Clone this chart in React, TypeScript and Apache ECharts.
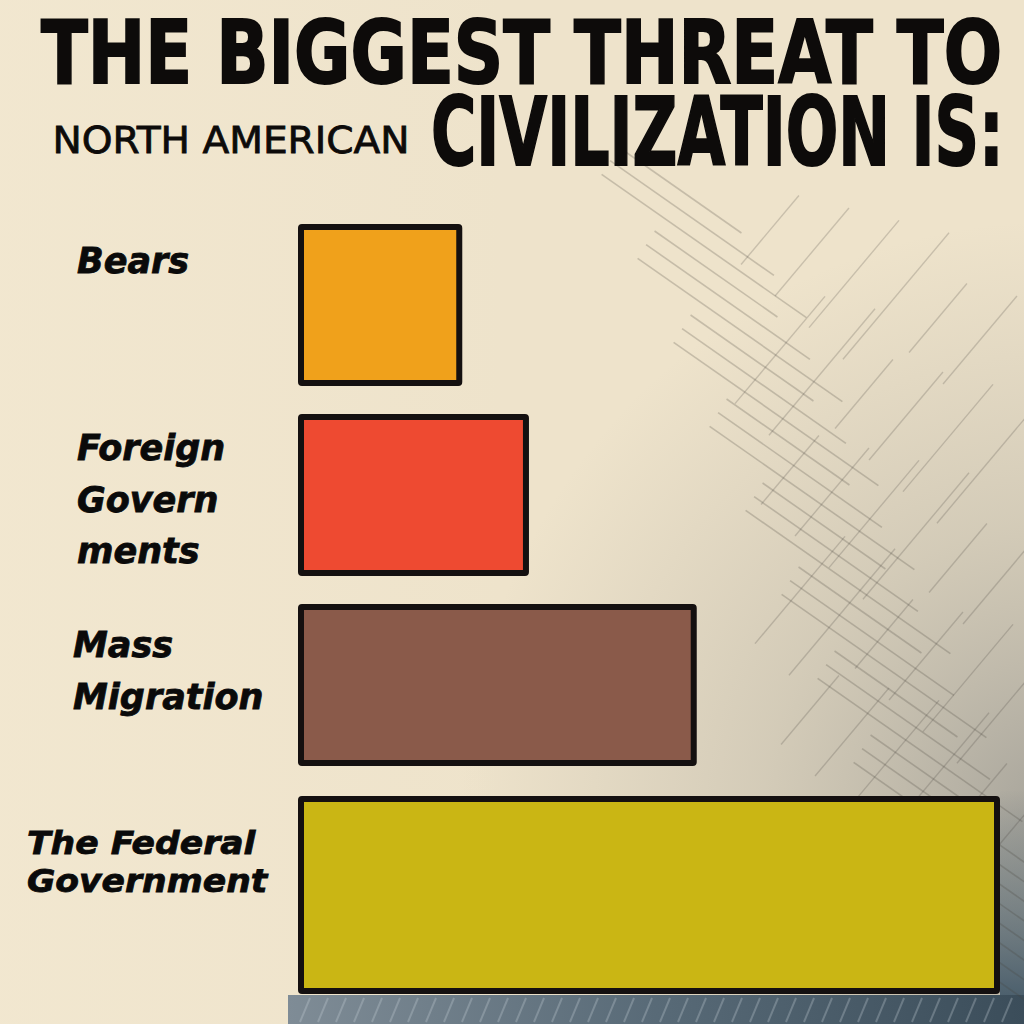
import React, { useEffect, useRef } from "react";
import * as echarts from "echarts";

// ---- data ----
const categories = ["Bears", "Foreign Governments", "Mass Migration", "The Federal Government"];
const values = [23.4, 32.9, 56.8, 100];
const barColors = ["#F0A11B", "#EE4A31", "#8A5A4A", "#CAB614"];
const labelLines = [["Bears"], ["Foreign", "Govern", "ments"], ["Mass", "Migration"], ["The Federal", "Government"]];
const titleLine1 = "THE BIGGEST THREAT TO";
const titleLine2 = "CIVILIZATION IS:";
const subtitle = "NORTH AMERICAN";

// ---- layout (positions only) ----
const labelPos = [
  { x: 77, y: 259, lh: 52, fs: 35, sx: 1 },
  { x: 77, y: 446, lh: 51.5, fs: 35, sx: 1 },
  { x: 73, y: 643, lh: 52, fs: 35, sx: 1 },
  { x: 27, y: 841, lh: 37.5, fs: 32, sx: 1.08 },
];

function measure(text: string, font: string): number {
  const c = document.createElement("canvas");
  const ctx = c.getContext("2d")!;
  ctx.font = font;
  return ctx.measureText(text).width;
}

export default function App() {
  const ref = useRef<HTMLDivElement>(null);
  useEffect(() => {
    if (!ref.current) return;
    const chart = echarts.init(ref.current, undefined, { renderer: "svg" });

    const titleFamily = '"DejaVu Sans", sans-serif';
    // draws text at a smaller base size, then scales it up to the target cap size and width
    const fitText = (text: string, fs: number, shrink: number, family: string, weight: string, left: number, right: number, y: number, strokeW: number) => {
      const base = fs * shrink;
      const w = measure(text, `${weight} ${base}px ${family}`);
      const sx = (right - left - strokeW) / w;
      return {
        type: "text",
        x: left + strokeW / 2,
        y,
        scaleX: sx,
        scaleY: 1 / shrink,
        z: 20,
        silent: true,
        style: {
          text,
          fill: "#0d0b0a",
          stroke: "#0d0b0a",
          lineWidth: strokeW * shrink,
          fontSize: base,
          fontFamily: family,
          fontWeight: weight,
          align: "left",
          verticalAlign: "middle",
          textAlign: "left",
          textVerticalAlign: "middle",
        },
      };
    };

    // hatch decoration
    const hatch: any[] = [];
    const ca = Math.cos((35 * Math.PI) / 180), sa = Math.sin((35 * Math.PI) / 180);
    for (let k = 0; k < 30; k++) {
      const cx = 680 + k * 12;
      const cy = 190 + k * 28;
      const L = 150 + (k % 3) * 50;
      hatch.push({
        type: "line", silent: true, z: 1,
        shape: { x1: cx - (L / 2) * ca, y1: cy - (L / 2) * sa, x2: cx + (L / 2) * ca, y2: cy + (L / 2) * sa },
        style: { stroke: "rgba(70,66,60,0.24)", lineWidth: 1.6 },
      });
    }
    const cb = Math.cos((-50 * Math.PI) / 180), sb = Math.sin((-50 * Math.PI) / 180);
    for (let k = 0; k < 30; k++) {
      const cx = 770 + (k % 6) * 42 + Math.floor(k / 6) * 10;
      const cy = 230 + Math.floor(k / 6) * 120 + (k % 6) * 22;
      const L = 90 + (k % 4) * 25;
      hatch.push({
        type: "line", silent: true, z: 1,
        shape: { x1: cx - (L / 2) * cb, y1: cy - (L / 2) * sb, x2: cx + (L / 2) * cb, y2: cy + (L / 2) * sb },
        style: { stroke: "rgba(70,66,60,0.22)", lineWidth: 1.4 },
      });
    }
    const nBg = hatch.length;
    // bottom strip hatch
    for (let k = 0; k < 40; k++) {
      const x = 300 + k * 18;
      hatch.push({
        type: "line", silent: true, z: 1,
        shape: { x1: x, y1: 1022, x2: x + 10, y2: 998 },
        style: { stroke: "rgba(200,210,215,0.3)", lineWidth: 2 },
      });
    }

    const labels = labelLines.map((lines, i) => {
      const p = labelPos[i];
      return {
        type: "text", x: p.x, y: p.y - p.lh / 2 + 0.0675 * p.fs, scaleX: p.sx, z: 20, silent: true,
        style: {
          text: lines.join("\n"), fill: "#0a0a0a", stroke: "#0a0a0a", lineWidth: 0.8,
          fontSize: p.fs, fontWeight: "bold", fontStyle: "italic", lineHeight: p.lh,
          fontFamily: '"DejaVu Sans", sans-serif',
          align: "left", verticalAlign: "top", textAlign: "left", textVerticalAlign: "top",
        },
      };
    });

    const barStyle = { borderColor: "#141010", borderWidth: 6, borderRadius: 1 };

    chart.setOption({
      animation: false,
      backgroundColor: "#EEE3CB",
      grid: [
        { left: 298, width: 702, top: 210, height: 570 },
        { left: 298, width: 702, top: 796, height: 198 },
      ],
      xAxis: [
        { gridIndex: 0, type: "value", min: 0, max: 100, show: false },
        { gridIndex: 1, type: "value", min: 0, max: 100, show: false },
      ],
      yAxis: [
        { gridIndex: 0, type: "category", data: categories.slice(0, 3), inverse: true, show: false },
        { gridIndex: 1, type: "category", data: categories.slice(3), show: false },
      ],
      series: [
        {
          type: "bar", xAxisIndex: 0, yAxisIndex: 0, barWidth: 162, z: 5,
          data: values.slice(0, 3).map((v, i) => ({ value: v, itemStyle: { ...barStyle, color: barColors[i] } })),
        },
        {
          type: "bar", xAxisIndex: 1, yAxisIndex: 1, barWidth: 198, z: 5,
          data: values.slice(3).map((v, i) => ({ value: v, itemStyle: { ...barStyle, color: barColors[3 + i] } })),
        },
      ],
      graphic: [
        {
          type: "rect", silent: true, z: 0,
          shape: { x: 0, y: 0, width: 1024, height: 1024 },
          style: {
            fill: new echarts.graphic.RadialGradient(1060, 820, 600, [
              { offset: 0, color: "rgba(115,118,120,0.6)" },
              { offset: 0.5, color: "rgba(150,148,140,0.3)" },
              { offset: 1, color: "rgba(160,155,145,0)" },
            ], true),
          },
        },
        {
          type: "rect", silent: true, z: 0,
          shape: { x: 0, y: 0, width: 1024, height: 1024 },
          style: {
            fill: new echarts.graphic.LinearGradient(0, 0, 1024, 0, [
              { offset: 0, color: "rgba(245,235,212,0.5)" },
              { offset: 0.5, color: "rgba(245,235,212,0)" },
            ], true),
          },
        },
        ...hatch.slice(0, nBg),
        {
          type: "rect", silent: true, z: 0,
          shape: { x: 1000, y: 790, width: 24, height: 210 },
          style: {
            fill: new echarts.graphic.LinearGradient(0, 790, 0, 1000, [
              { offset: 0, color: "rgba(74,94,108,0)" },
              { offset: 1, color: "rgba(74,94,108,1)" },
            ], true),
          },
        },
        {
          type: "rect", silent: true, z: 0,
          shape: { x: 288, y: 995, width: 736, height: 29 },
          style: {
            fill: new echarts.graphic.LinearGradient(288, 0, 1024, 0, [
              { offset: 0, color: "#7F8C96" },
              { offset: 0.5, color: "#586A77" },
              { offset: 1, color: "#3B4D5A" },
            ], true),
          },
        },
        ...hatch.slice(nBg),
        fitText(titleLine1, 88, 0.75, titleFamily, "bold", 40, 1003, 53, 2),
        fitText(titleLine2, 94, 0.75, titleFamily, "bold", 430, 1005, 133, 2),
        fitText(subtitle, 38, 1, '"DejaVu Sans", sans-serif', "normal", 52, 410, 140, 0.8),
        ...labels,
      ],
    });
    return () => chart.dispose();
  }, []);
  return <div ref={ref} style={{ position: "fixed", left: 0, top: 0, width: 1024, height: 1024 }} />;
}
